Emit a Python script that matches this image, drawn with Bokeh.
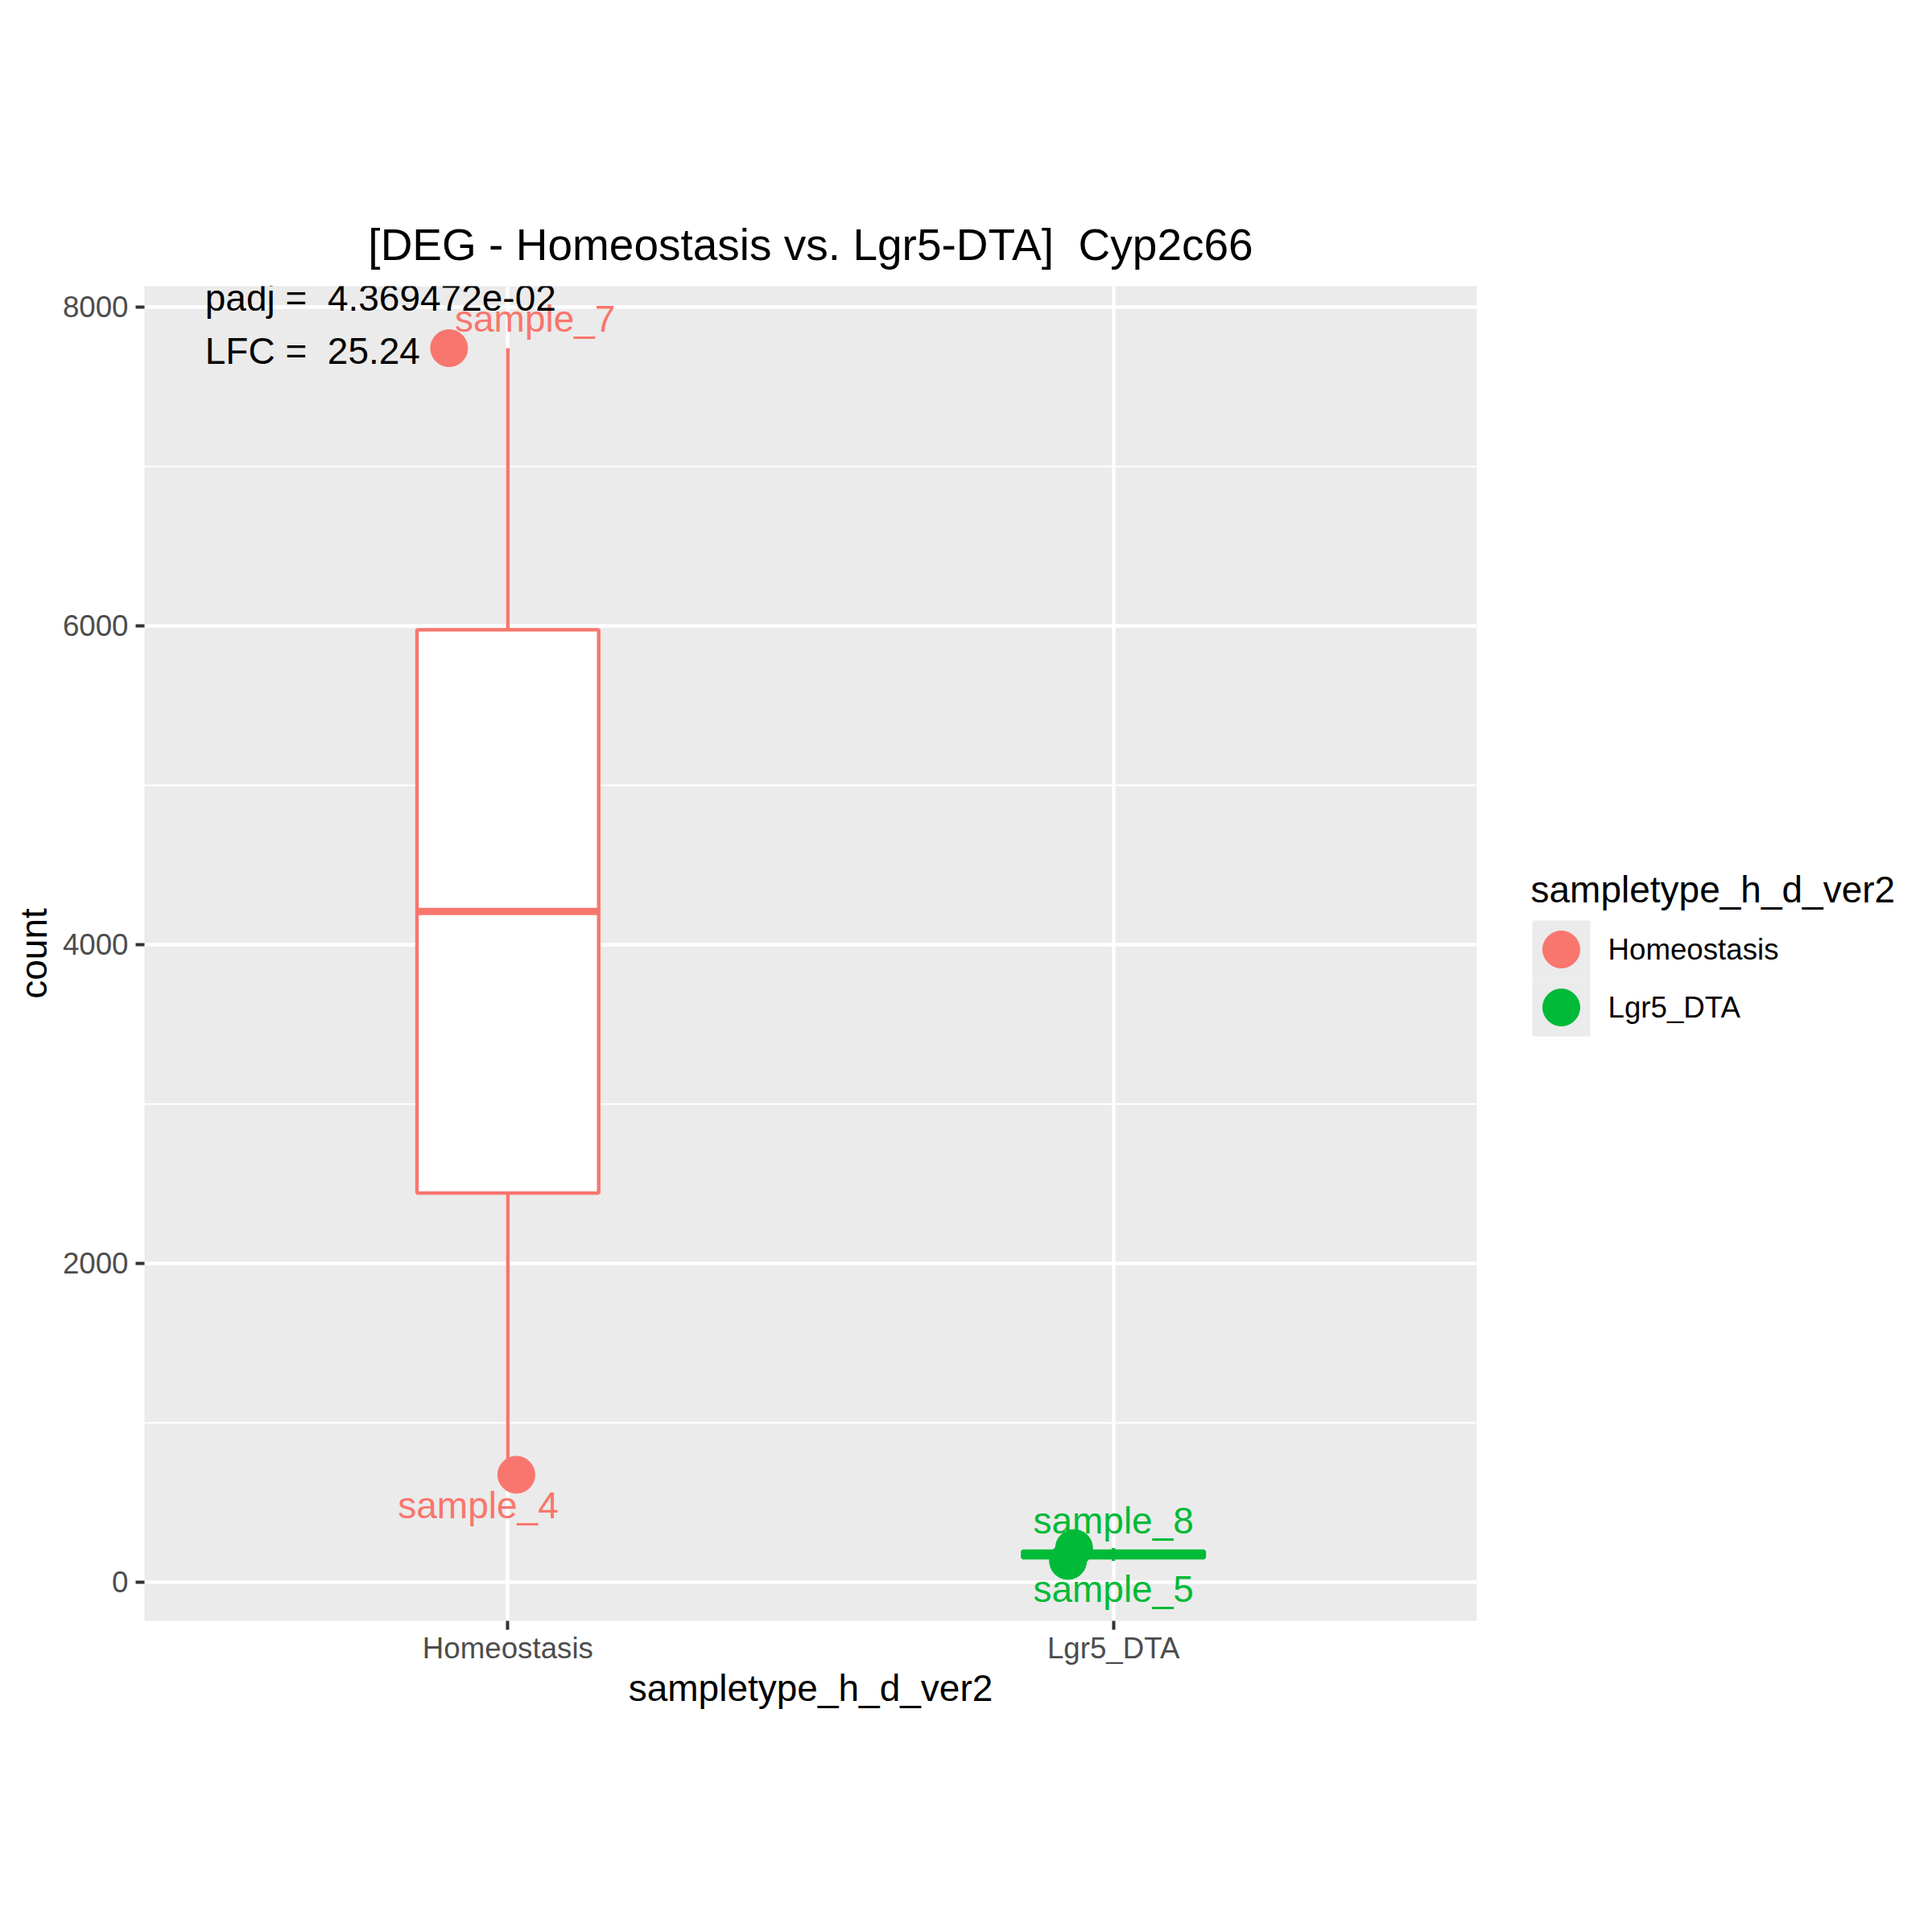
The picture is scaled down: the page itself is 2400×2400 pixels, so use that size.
import numpy as np
from bokeh.plotting import figure
from bokeh.models import Range1d, FixedTicker, SingleIntervalTicker, ColumnDataSource
from bokeh.layouts import row
from bokeh.core.properties import value
from bokeh.embed import file_html
from bokeh.resources import INLINE

# ---------------- data ----------------
groups = ["Homeostasis", "Lgr5_DTA"]
group_colors = ["#F8766D", "#00BA38"]
sample_names = ["sample_7", "sample_4", "sample_8", "sample_5"]
sample_group = [1, 1, 2, 2]                    # 1 = Homeostasis, 2 = Lgr5_DTA
sample_count = [7742, 672, 212, 131]
sample_jitter = [-0.097, 0.014, -0.065, -0.075]  # horizontal jitter (category units)
label_x = [1.045, 0.951, 2.0, 2.0]             # repelled label positions
label_y = [7924, 480, 384, -45]
NB = "\u00a0"
title_text = "[DEG - Homeostasis vs. Lgr5-DTA] " + NB + "Cyp2c66"
annot_lines = ["padj = " + NB + "4.369472e-02", "LFC = " + NB + "25.24"]
annot_x = 0.5
annot_y = [8056, 7722]
y_ticks = [0, 2000, 4000, 6000, 8000]

FONT = "Liberation Sans"
LW = 4.4
BOX_W = 0.3

# page geometry (px)
FRAME_TOP, FRAME_BOTTOM = 355, 2013

p = figure(width=1880, height=2400, output_backend="svg", toolbar_location=None,
           x_range=Range1d(0.4, 2.6), y_range=Range1d(-245, 8131),
           min_border_left=179, min_border_right=46, min_border_top=FRAME_TOP,
           min_border_bottom=2400 - FRAME_BOTTOM)
p.background_fill_color = "#EBEBEB"
p.border_fill_color = "white"
p.outline_line_color = None

# title
p.title.text = title_text
p.title.align = "center"
p.title.text_font = FONT
p.title.text_font_style = "normal"
p.title.text_font_size = "55px"
p.title.text_color = "black"
p.title.standoff = 41

# axes
p.xaxis.ticker = FixedTicker(ticks=[1, 2])
p.xaxis.major_label_overrides = {1: groups[0], 2: groups[1]}
p.yaxis.ticker = SingleIntervalTicker(interval=2000, num_minor_ticks=2)
for ax in (p.xaxis[0], p.yaxis[0]):
    ax.axis_line_color = None
    ax.major_tick_line_color = "#333333"
    ax.major_tick_line_width = 4
    ax.major_tick_out = 11
    ax.major_tick_in = 0
    ax.minor_tick_line_color = None
    ax.major_label_text_font = FONT
    ax.major_label_text_font_size = "36.7px"
    ax.major_label_text_color = "#4D4D4D"
    ax.axis_label_text_font = FONT
    ax.axis_label_text_font_size = "46px"
    ax.axis_label_text_font_style = "normal"
    ax.axis_label_text_color = "black"
p.xaxis.axis_label = "sampletype_h_d_ver2"
p.yaxis.axis_label = "count"
p.xaxis.major_label_standoff = 2
p.xaxis.axis_label_standoff = 0
p.yaxis.major_label_standoff = 9
p.yaxis.axis_label_standoff = 7

# grid
p.xgrid.grid_line_color = "white"
p.xgrid.grid_line_width = LW
p.ygrid.grid_line_color = "white"
p.ygrid.grid_line_width = LW
p.ygrid.minor_grid_line_color = "white"
p.ygrid.minor_grid_line_width = 2.2

# boxplots computed from the sample values
sc = np.array(sample_count, dtype=float)
sg = np.array(sample_group)
for gi, (gname, col) in enumerate(zip(groups, group_colors), start=1):
    vals = sc[sg == gi]
    q1, med, q3 = np.percentile(vals, [25, 50, 75])
    iqr = q3 - q1
    lo = vals[vals >= q1 - 1.5 * iqr].min()
    hi = vals[vals <= q3 + 1.5 * iqr].max()
    p.segment(x0=[gi, gi], y0=[q3, lo], x1=[gi, gi], y1=[hi, q1],
              line_color=col, line_width=LW)
    p.quad(left=[gi - BOX_W / 2], right=[gi + BOX_W / 2], bottom=[q1], top=[q3],
           fill_color="white", line_color=col, line_width=LW)
    p.segment(x0=[gi - BOX_W / 2], y0=[med], x1=[gi + BOX_W / 2], y1=[med],
              line_color=col, line_width=LW * 2)

# points
pt_src = ColumnDataSource(dict(
    x=[g + j for g, j in zip(sample_group, sample_jitter)],
    y=sample_count,
    color=[group_colors[g - 1] for g in sample_group],
))
p.scatter("x", "y", source=pt_src, size=46, fill_color="color", line_color="color")

# sample labels
lab_src = ColumnDataSource(dict(x=label_x, y=label_y, text=sample_names,
                                color=[group_colors[g - 1] for g in sample_group]))
p.text("x", "y", text="text", source=lab_src, text_color="color",
       text_font=value(FONT), text_font_size="46px",
       text_align="center", text_baseline="middle")

# annotation
p.text(x=[annot_x] * len(annot_lines), y=annot_y, text=annot_lines,
       text_color="black", text_font=value(FONT), text_font_size="46px",
       text_align="left", text_baseline="middle")

# ---------------- legend (separate panel; frame aligned with main frame) ----
LX0 = 1880
leg = figure(width=520, height=2400, output_backend="svg", toolbar_location=None,
             x_range=Range1d(LX0, 2400), y_range=Range1d(FRAME_BOTTOM, FRAME_TOP),
             min_border_left=0, min_border_right=0, min_border_top=FRAME_TOP,
             min_border_bottom=2400 - FRAME_BOTTOM)
leg.axis.visible = False
leg.grid.visible = False
leg.outline_line_color = None
leg.background_fill_color = "white"
leg.border_fill_color = "white"

KEY = 72
key_left = 1903
key_top = 1143
title_y = 1104
leg.text(x=[1901], y=[title_y], text=["sampletype_h_d_ver2"], text_color="black",
         text_font=value(FONT), text_font_size="46px",
         text_align="left", text_baseline="middle")
tops = [key_top + i * KEY for i in range(len(groups))]
leg.quad(left=[key_left] * len(groups), right=[key_left + KEY] * len(groups),
         top=tops, bottom=[t + KEY for t in tops],
         fill_color="#EBEBEB", line_color=None)
centers = [t + KEY / 2 for t in tops]
leg.scatter(x=[key_left + KEY / 2] * len(groups), y=centers, size=46,
            fill_color=group_colors, line_color=group_colors)
leg.text(x=[key_left + KEY + 22] * len(groups), y=centers, text=groups,
         text_color="black", text_font=value(FONT), text_font_size="36.7px",
         text_align="left", text_baseline="middle")

layout = row(p, leg, spacing=0)
open("out.html", "w").write(file_html(layout, INLINE))
